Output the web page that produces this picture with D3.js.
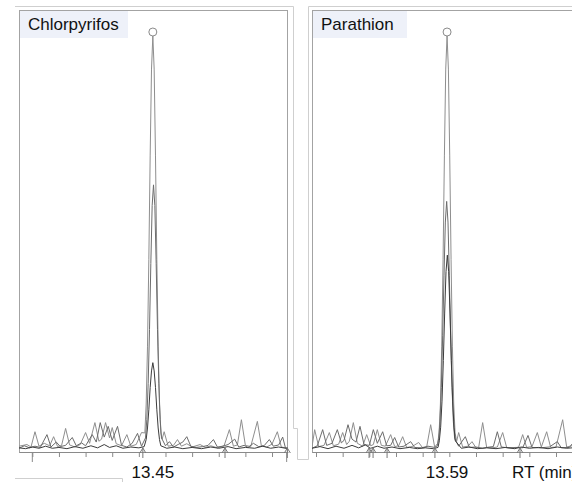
<!DOCTYPE html>
<html><head><meta charset="utf-8">
<script src="https://cdn.jsdelivr.net/npm/d3@7"></script>
<style>body{margin:0;background:#fff}svg{display:block}</style>
</head><body>
<script>
// ---- DATA ----
const panelNames = ["Chlorpyrifos", "Parathion"];
const peakRT = [13.4505, 13.5883];
const peakLabels = ["13.45", "13.59"];
const axisTitle = "RT (min)";
const ticksLeft = [13.36, 13.38, 13.40, 13.42, 13.44, 13.46, 13.48, 13.50, 13.52, 13.54];
const longTicksLeft = [13.36, 13.551];
const ticksRight = [13.49, 13.51, 13.53, 13.55, 13.57, 13.59, 13.61, 13.63, 13.65, 13.67, 13.69];
const markersLeft = [13.443, 13.5047, 13.5515];
const markersRight = [13.5298, 13.5328, 13.5433, 13.5792, 13.643];

// Left panel traces: [RT (min), relative intensity %]
const leftA = [[13.350,0.8],[13.356,1.2],[13.359,0.6],[13.362,4.3],[13.365,0.8],[13.369,1.5],[13.373,0.9],[13.376,3.1],[13.379,0.7],[13.382,1.0],[13.385,5.1],[13.388,1.1],[13.392,0.6],[13.396,1.2],[13.400,4.1],[13.403,1.5],[13.407,6.5],[13.410,2.0],[13.412,2.5],[13.415,6.5],[13.418,2.8],[13.420,5.3],[13.423,1.4],[13.427,0.9],[13.431,3.6],[13.434,0.8],[13.438,1.2],[13.442,4.1],[13.4445,4],
 [13.4455,11],[13.4465,25],[13.4475,46],[13.4485,71],[13.4495,92],[13.4505,100],[13.4515,92],[13.4525,71],[13.4535,46],[13.4545,25],[13.4555,11],[13.4565,4],
 [13.4575,2.5],[13.459,4.3],[13.462,0.8],[13.466,1.0],[13.469,2.4],[13.472,0.8],[13.476,1.4],[13.480,0.6],[13.486,1.2],[13.490,0.5],[13.494,0.9],[13.499,0.4],[13.504,0.9],[13.508,4.8],[13.511,0.8],[13.514,1.1],[13.517,7.2],[13.520,1.0],[13.524,0.7],[13.529,6.8],[13.532,0.9],[13.536,0.6],[13.540,1.3],[13.544,4.3],[13.547,0.6],[13.552,0.3]];
const leftB = [[13.350,0.3],[13.354,0.9],[13.358,0.4],[13.362,0.8],[13.366,0.5],[13.371,3.6],[13.374,0.6],[13.378,1.8],[13.381,0.7],[13.385,1.0],[13.390,2.9],[13.393,0.9],[13.397,1.6],[13.400,0.9],[13.405,3.6],[13.408,1.8],[13.411,6.5],[13.414,3.0],[13.417,5.6],[13.420,2.2],[13.424,5.6],[13.427,1.0],[13.431,0.6],[13.435,1.5],[13.439,3.9],[13.442,0.8],
 [13.445,2.8],[13.446,7.3],[13.447,16],[13.448,29],[13.449,45],[13.450,59],[13.451,64],[13.452,59],[13.453,45],[13.454,29],[13.455,16],[13.456,7.3],[13.457,2.8],
 [13.460,0.9],[13.463,1.9],[13.466,0.6],[13.470,1.3],[13.473,1.8],[13.476,3.1],[13.479,0.8],[13.483,0.5],[13.488,0.7],[13.492,1.0],[13.496,2.4],[13.499,0.6],[13.503,0.8],[13.507,1.2],[13.512,2.5],[13.515,0.6],[13.519,1.0],[13.522,0.5],[13.526,1.5],[13.530,0.7],[13.534,0.9],[13.538,2.4],[13.541,0.8],[13.545,1.1],[13.548,3.0],[13.550,0.5],[13.552,0.2]];
const leftC = [[13.350,0.4],[13.355,0.2],[13.360,0.6],[13.365,0.3],[13.370,0.8],[13.375,0.3],[13.380,0.5],[13.386,0.2],[13.392,0.7],[13.398,0.3],[13.404,0.9],[13.409,0.4],[13.414,1.2],[13.418,0.5],[13.423,0.9],[13.428,0.3],[13.434,0.6],[13.440,0.4],[13.444,0.7],
 [13.4455,2.4],[13.4465,5.2],[13.4475,9.6],[13.4485,15],[13.4495,19],[13.4505,21],[13.4515,19],[13.4525,15],[13.4535,9.6],[13.4545,5.2],[13.4555,2.4],[13.4565,0.9],
 [13.461,0.3],[13.467,0.6],[13.473,0.2],[13.480,0.5],[13.487,0.2],[13.494,0.6],[13.500,0.3],[13.507,0.7],[13.513,0.2],[13.520,0.5],[13.527,0.3],[13.533,0.8],[13.539,0.3],[13.545,0.6],[13.552,0.2]];

// Right panel traces
const rightA = [[13.487,0.6],[13.489,4.8],[13.492,0.7],[13.496,1.0],[13.500,4.1],[13.503,0.9],[13.507,1.3],[13.510,4.1],[13.513,1.2],[13.515,2.0],[13.518,6.5],[13.521,1.5],[13.525,0.8],[13.528,3.6],[13.531,0.9],[13.533,1.2],[13.536,4.8],[13.539,1.0],[13.542,0.8],[13.546,3.6],[13.549,0.7],[13.552,0.9],[13.555,3.1],[13.558,0.5],[13.562,0.7],[13.567,1.7],[13.570,0.4],[13.573,0.6],[13.576,6.0],[13.579,0.6],[13.5813,1.5],
 [13.5823,4],[13.5833,11],[13.5843,25],[13.5853,46],[13.5863,71],[13.5873,92],[13.5883,100],[13.5893,92],[13.5903,71],[13.5913,46],[13.5923,25],[13.5933,11],[13.5943,4],
 [13.5955,2.0],[13.597,4.1],[13.600,0.6],[13.604,0.8],[13.607,1.9],[13.610,0.4],[13.612,0.5],[13.615,6.5],[13.618,0.5],[13.622,0.4],[13.626,0.6],[13.630,4.1],[13.633,0.5],[13.638,0.3],[13.642,0.6],[13.645,3.6],[13.648,0.5],[13.652,0.7],[13.656,4.1],[13.659,0.6],[13.663,4.3],[13.666,0.5],[13.670,0.6],[13.675,7.2],[13.678,0.6],[13.683,1.0],[13.690,3.0],[13.693,0.5],[13.700,2.0],[13.703,0.4]];
const rightB = [[13.487,0.3],[13.491,0.9],[13.495,4.8],[13.498,1.0],[13.502,1.5],[13.506,4.8],[13.509,1.6],[13.511,2.2],[13.514,6.0],[13.517,2.5],[13.520,1.8],[13.523,5.6],[13.526,1.2],[13.530,1.0],[13.533,4.8],[13.536,1.5],[13.540,4.3],[13.543,0.9],[13.546,1.0],[13.549,2.9],[13.552,0.6],[13.556,0.8],[13.561,1.9],[13.564,0.5],[13.569,0.4],[13.574,0.8],[13.579,0.5],[13.581,0.9],
 [13.582,2.6],[13.583,6.8],[13.584,15],[13.585,27.5],[13.586,42],[13.587,55],[13.588,60],[13.589,55],[13.590,42],[13.591,27.5],[13.592,15],[13.593,6.8],[13.594,2.6],
 [13.597,0.8],[13.602,3.1],[13.605,0.5],[13.610,0.6],[13.615,0.3],[13.620,0.6],[13.623,0.7],[13.626,4.3],[13.629,0.6],[13.634,0.4],[13.640,0.5],[13.645,0.4],[13.649,3.4],[13.652,0.5],[13.658,0.4],[13.665,0.6],[13.671,1.9],[13.674,0.4],[13.680,0.5],[13.685,2.5],[13.688,0.4],[13.693,0.6],[13.697,1.5],[13.700,0.4],[13.703,0.3]];
const rightC = [[13.487,0.3],[13.493,0.7],[13.499,0.2],[13.505,0.8],[13.511,0.3],[13.517,1.0],[13.522,0.4],[13.527,1.1],[13.531,0.3],[13.536,0.8],[13.541,0.3],[13.547,0.6],[13.553,0.2],[13.560,0.5],[13.566,0.2],[13.572,0.4],[13.578,0.2],[13.5815,0.5],
 [13.5825,2.1],[13.5835,5.4],[13.5845,11.7],[13.5855,21.5],[13.5865,33],[13.5875,43],[13.5885,47],[13.5895,43],[13.5905,33],[13.5915,21.5],[13.5925,11.7],[13.5935,5.4],[13.5945,2.1],
 [13.599,0.3],[13.605,0.6],[13.611,0.2],[13.618,0.4],[13.625,0.2],[13.632,0.5],[13.639,0.2],[13.644,0.6],[13.650,0.3],[13.657,0.5],[13.664,0.2],[13.671,0.6],[13.678,0.3],[13.686,0.5],[13.694,0.2],[13.703,0.4]];

// ---- DRAW ----
const W = 572, H = 482;
const svg = d3.select("body").append("svg").attr("width", W).attr("height", H)
  .style("font-family", "'Liberation Sans', Arial, sans-serif");
svg.append("rect").attr("width", W).attr("height", H).attr("fill", "#fff");

const y = d3.scaleLinear().domain([0, 100]).range([449.5, 36]);
const axisY = 452;
const traceColors = ["#8e8e8e", "#6c6c6c", "#3c3c3c"];

// decorative outer frames
svg.append("path").attr("d", "M15,6.5H293.5V428.5H297.5V459.5H308.5V6.5H572")
  .attr("fill", "none").attr("stroke", "#cfcfcf");
svg.append("path").attr("d", "M15,478.5H122.5V482")
  .attr("fill", "none").attr("stroke", "#cfcfcf");

const panels = [
  { name: panelNames[0], x: d3.scaleLinear().domain([13.35, 13.552]).range([19, 288]),
    traces: [leftA, leftB, leftC], ticks: ticksLeft, longTicks: longTicksLeft,
    markers: markersLeft, rt: peakRT[0], label: peakLabels[0], left: 19, right: 288, boxW: 108 },
  { name: panelNames[1], x: d3.scaleLinear().domain([13.487, 13.703]).range([312, 600]),
    traces: [rightA, rightB, rightC], ticks: ticksRight, longTicks: [],
    markers: markersRight, rt: peakRT[1], label: peakLabels[1], left: 312, right: 600, boxW: 94 }
];

panels.forEach((p, i) => {
  const g = svg.append("g");
  const clipId = "clip" + i;
  svg.append("defs").append("clipPath").attr("id", clipId)
    .append("rect").attr("x", p.left).attr("y", 10).attr("width", p.right - p.left).attr("height", axisY - 10);

  // inner frame
  g.append("rect").attr("x", p.left + 0.5).attr("y", 10.5)
    .attr("width", p.right - p.left - 1).attr("height", axisY - 10)
    .attr("fill", "none").attr("stroke", "#a3a3a3");

  // label box
  g.append("rect").attr("x", p.left + 1).attr("y", 11).attr("width", p.boxW).attr("height", 27)
    .attr("fill", "#eef1f9");
  g.append("text").attr("x", p.left + 9).attr("y", 30).attr("font-size", 17)
    .attr("fill", "#111").text(p.name);

  // traces
  const line = d3.line().x(d => p.x(d[0])).y(d => y(d[1]));
  const tg = g.append("g").attr("clip-path", `url(#${clipId})`);
  p.traces.forEach((t, k) => {
    tg.append("path").datum(t).attr("d", line).attr("fill", "none")
      .attr("stroke", traceColors[k]).attr("stroke-width", 1).attr("stroke-linejoin", "round");
  });

  // peak apex circle
  g.append("circle").attr("cx", p.x(p.rt)).attr("cy", y(100) - 4).attr("r", 4)
    .attr("fill", "#fff").attr("stroke", "#8a8a8a");

  // axis
  const ax = g.append("g").attr("transform", `translate(0,${axisY})`)
    .call(d3.axisBottom(p.x).tickValues(p.ticks).tickSize(5).tickSizeOuter(0).tickFormat(""));
  ax.select(".domain").attr("stroke", "#8a8a8a");
  ax.selectAll(".tick line").attr("stroke", "#8a8a8a");
  p.longTicks.forEach(v => {
    g.append("line").attr("x1", p.x(v)).attr("x2", p.x(v)).attr("y1", axisY).attr("y2", axisY + 10)
      .attr("stroke", "#8a8a8a");
  });
  // integration markers
  p.markers.forEach(v => {
    const mx = p.x(v);
    g.append("path").attr("d", `M${mx},${axisY - 5}V${axisY + 6}M${mx - 3},${axisY + 1}L${mx},${axisY - 4}L${mx + 3},${axisY + 1}`)
      .attr("fill", "none").attr("stroke", "#777");
  });

  // peak RT label
  svg.append("text").attr("x", p.x(p.rt)).attr("y", 478).attr("text-anchor", "middle")
    .attr("font-size", 17).attr("fill", "#111").text(p.label);
});

svg.append("text").attr("x", 512).attr("y", 478).attr("font-size", 17).attr("fill", "#111").text(axisTitle);
</script>
</body></html>
